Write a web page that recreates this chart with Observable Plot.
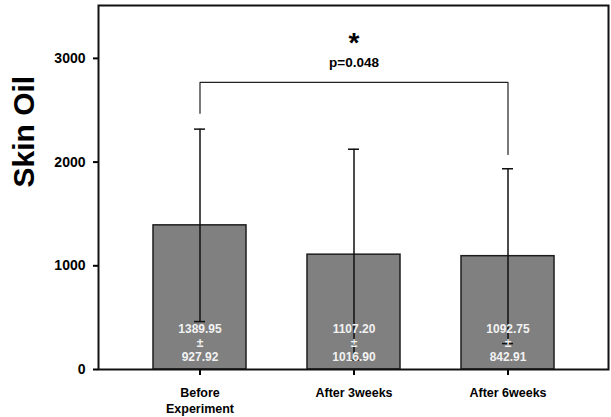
<!DOCTYPE html>
<html>
<head>
<meta charset="utf-8">
<script src="https://cdn.jsdelivr.net/npm/d3@7"></script>
<script src="https://cdn.jsdelivr.net/npm/@observablehq/plot@0.6"></script>
<style>
  html, body { margin: 0; padding: 0; background: #fff; }
  #chart svg { display: block; }
</style>
</head>
<body>
<div id="chart"></div>
<script>
const categories = ["Before\nExperiment", "After 3weeks", "After 6weeks"];
const means = [1389.95, 1107.20, 1092.75];
const sds = [927.92, 1016.90, 842.91];
const yTicks = [0, 1000, 2000, 3000];
// significance bracket: [category, value]
const bracketCats = ["Before\nExperiment", "Before\nExperiment", "After 6weeks", "After 6weeks"];
const bracketVals = [2470, 2768, 2768, 2073];
const sigStar = "*";
const sigText = "p=0.048";

const data = categories.map((c, i) => ({cat: c, mean: means[i], sd: sds[i],
  lo: means[i] - sds[i], hi: means[i] + sds[i],
  label: `${means[i].toFixed(2)}\n±\n${sds[i].toFixed(2)}`}));
const bracket = bracketCats.map((c, i) => ({cat: c, v: bracketVals[i]}));

const chart = Plot.plot({
  width: 611,
  height: 417,
  marginLeft: 98,
  marginRight: 3,
  marginTop: 5,
  marginBottom: 48,
  style: {fontFamily: "Liberation Sans, Arial, sans-serif", background: "#fff"},
  x: {domain: categories, paddingInner: 0.398, paddingOuter: 0.353, label: null},
  y: {domain: [0, 3510], label: null},
  marks: [
    Plot.barY(data, {x: "cat", y: "mean", fill: "#808080", stroke: "#1e1e1e", strokeWidth: 1.5}),
    Plot.ruleX(data, {x: "cat", y1: "lo", y2: "hi", stroke: "#111", strokeWidth: 1.5}),
    Plot.tickY(data, {x: "cat", y: "lo", stroke: "#111", strokeWidth: 1.5, insetLeft: 41, insetRight: 41}),
    Plot.tickY(data, {x: "cat", y: "hi", stroke: "#111", strokeWidth: 1.5, insetLeft: 41, insetRight: 41}),
    Plot.text(data, {x: "cat", y: 0, text: "label", fill: "#f2f2f2", fontSize: 12, fontWeight: "bold",
      lineAnchor: "bottom", lineHeight: 1.15, dy: -9}),
    Plot.line(bracket, {x: "cat", y: "v", stroke: "#222", strokeWidth: 1.2}),
    Plot.text([sigStar], {x: () => categories[1], y: () => 3175, text: d => d, fontSize: 28, fontWeight: "bold", dy: 3}),
    Plot.text([sigText], {x: () => categories[1], y: () => 2960, text: d => d, fontSize: 13.5, fontWeight: "bold"}),
    Plot.axisY({ticks: yTicks, tickSize: 5, tickPadding: 8, tickFormat: d => String(d), fontSize: 14, fontWeight: "bold", strokeWidth: 2, label: null}),
    Plot.axisX({tickSize: 6, tickPadding: 10, fontSize: 12.5, fontWeight: "bold", lineHeight: 1.28, strokeWidth: 2, label: null}),
    Plot.frame({stroke: "#111", strokeWidth: 2}),
    Plot.text(["Skin Oil"], {frameAnchor: "left", rotate: -90, dx: -74, text: d => d, fontSize: 30, fontWeight: "bold", fill: "#000"})
  ]
});
document.getElementById("chart").appendChild(chart);
</script>
</body>
</html>
